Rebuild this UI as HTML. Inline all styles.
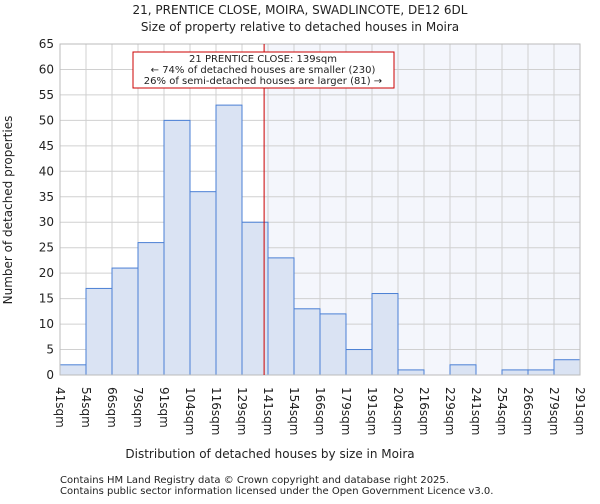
<!DOCTYPE html>
<html><head><meta charset="utf-8"><style>
body{margin:0;background:#fff;font-family:"DejaVu Sans","Liberation Sans",sans-serif;}
svg text{font-family:"DejaVu Sans","Liberation Sans",sans-serif;fill:#222;}
</style></head><body>
<svg id="chart" width="600" height="500" xmlns="http://www.w3.org/2000/svg">
<text x="300" y="14" text-anchor="middle" font-size="12">21, PRENTICE CLOSE, MOIRA, SWADLINCOTE, DE12 6DL</text>
<text x="300" y="31" text-anchor="middle" font-size="12">Size of property relative to detached houses in Moira</text>
<g id="grid"></g>
<g id="bars"></g>
<g id="axes"></g>
<text x="270" y="458" text-anchor="middle" font-size="12">Distribution of detached houses by size in Moira</text>
<text transform="translate(12,210) rotate(-90)" text-anchor="middle" font-size="12">Number of detached properties</text>
<text x="60" y="483" font-size="10" fill="#444">Contains HM Land Registry data © Crown copyright and database right 2025.</text>
<text x="60" y="494" font-size="10" fill="#444">Contains public sector information licensed under the Open Government Licence v3.0.</text>
</svg>
<script>
const categories=["41sqm","54sqm","66sqm","79sqm","91sqm","104sqm","116sqm","129sqm","141sqm","154sqm","166sqm","179sqm","191sqm","204sqm","216sqm","229sqm","241sqm","254sqm","266sqm","279sqm","291sqm"];
const counts=[2,17,21,26,50,36,53,30,23,13,12,5,16,1,0,2,0,1,1,3];
const yTicks=[0,5,10,15,20,25,30,35,40,45,50,55,60,65];
const markerBin=7.85;
const NS="http://www.w3.org/2000/svg";
const L=60,R=580,T=44,B=375,yMax=65;
const bw=(R-L)/counts.length;
const x=i=>L+i*bw;
const y=v=>B-(v/yMax)*(B-T);
function mk(tag,attrs,parent){const e=document.createElementNS(NS,tag);for(const k in attrs)e.setAttribute(k,attrs[k]);parent.appendChild(e);return e;}
const grid=document.getElementById('grid'),bars=document.getElementById('bars'),axes=document.getElementById('axes');
const mx=x(markerBin);
const sh=mk('rect',{x:mx,y:T,width:R-mx,height:B-T,fill:'#f4f6fc'},grid);


yTicks.forEach(t=>{
 const l=mk('line',{x1:L,x2:R,y1:y(t),y2:y(t),stroke:'#d0d0d0','stroke-width':1},grid);
 
 
 const tx=mk('text',{x:L-6,y:y(t)+4,'text-anchor':'end','font-size':12},axes);tx.textContent=t;
 
 
});
categories.forEach((c,i)=>{
 const l=mk('line',{x1:x(i),x2:x(i),y1:T,y2:B,stroke:'#d0d0d0','stroke-width':1},grid);
 
 
 const tx=mk('text',{transform:`translate(${x(i)-4},${B+12}) rotate(90)`,'font-size':12},axes);tx.textContent=c;
 
 
});
counts.forEach((v,i)=>{
 if(v<=0)return;
 const r=mk('rect',{x:x(i),y:y(v),width:bw,height:B-y(v),fill:'#dae3f3',stroke:'#4a7fd4','stroke-width':1},bars);
 
 
});
const ax=mk('rect',{x:L,y:T,width:R-L,height:B-T,fill:'none',stroke:'#bbb'},axes);


const ml=mk('line',{x1:mx,x2:mx,y1:T,y2:B,stroke:'#cc0000','stroke-width':1},axes);


const box=mk('rect',{x:133,y:52,width:261,height:36,fill:'#fff',stroke:'#cc0000'},axes);


["21 PRENTICE CLOSE: 139sqm","← 74% of detached houses are smaller (230)","26% of semi-detached houses are larger (81) →"].forEach((s,i)=>{
 const t=mk('text',{x:263,y:62+i*11,'text-anchor':'middle','font-size':10},axes);t.textContent=s;
 
 
});
</script>
</body></html>
